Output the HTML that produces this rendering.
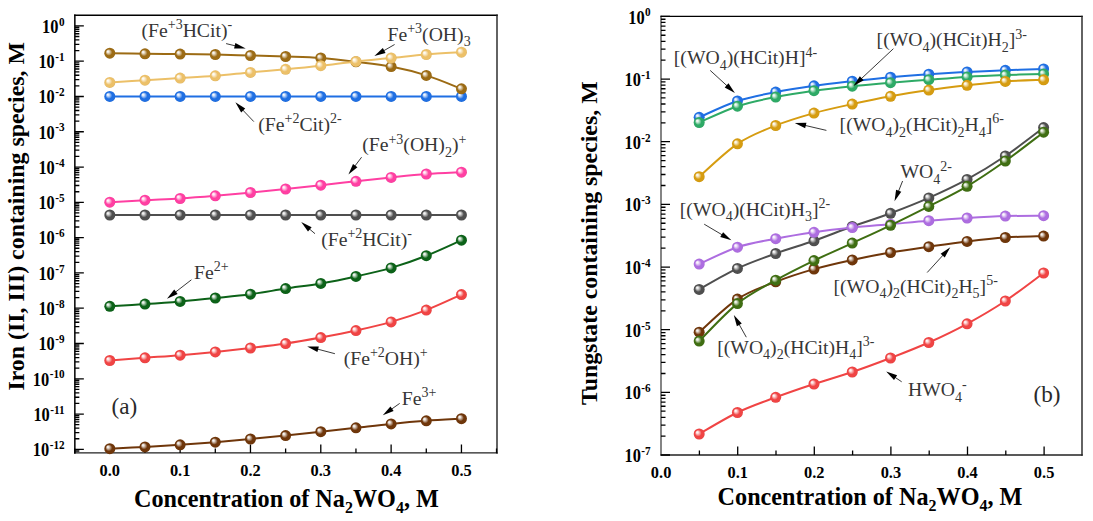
<!DOCTYPE html>
<html><head><meta charset="utf-8"><style>
html,body{margin:0;padding:0;background:#fff;overflow:hidden;}
svg{display:block;}
</style></head><body>
<svg width="1093" height="521" viewBox="0 0 1093 521">
<defs><radialGradient id="g1f6fe3" cx="0.5" cy="0.5" r="0.5" fx="0.30" fy="0.32"><stop offset="0" stop-color="#ffffff"/><stop offset="0.18" stop-color="#dde9fb"/><stop offset="0.40" stop-color="#7dabef"/><stop offset="0.60" stop-color="#1f6fe3"/><stop offset="0.88" stop-color="#1f6fe3"/><stop offset="1" stop-color="#1d68d5"/></radialGradient><radialGradient id="g9c6b14" cx="0.5" cy="0.5" r="0.5" fx="0.30" fy="0.32"><stop offset="0" stop-color="#ffffff"/><stop offset="0.18" stop-color="#f0e9dc"/><stop offset="0.40" stop-color="#c6a977"/><stop offset="0.60" stop-color="#9c6b14"/><stop offset="0.88" stop-color="#9c6b14"/><stop offset="1" stop-color="#936513"/></radialGradient><radialGradient id="gecc068" cx="0.5" cy="0.5" r="0.5" fx="0.30" fy="0.32"><stop offset="0" stop-color="#ffffff"/><stop offset="0.18" stop-color="#fcf6e8"/><stop offset="0.40" stop-color="#f4daa7"/><stop offset="0.60" stop-color="#ecc068"/><stop offset="0.88" stop-color="#ecc068"/><stop offset="1" stop-color="#deb462"/></radialGradient><radialGradient id="gff3fa2" cx="0.5" cy="0.5" r="0.5" fx="0.30" fy="0.32"><stop offset="0" stop-color="#ffffff"/><stop offset="0.18" stop-color="#ffe2f1"/><stop offset="0.40" stop-color="#ff90c9"/><stop offset="0.60" stop-color="#ff3fa2"/><stop offset="0.88" stop-color="#ff3fa2"/><stop offset="1" stop-color="#f03b98"/></radialGradient><radialGradient id="g4f4f4f" cx="0.5" cy="0.5" r="0.5" fx="0.30" fy="0.32"><stop offset="0" stop-color="#ffffff"/><stop offset="0.18" stop-color="#e5e5e5"/><stop offset="0.40" stop-color="#999999"/><stop offset="0.60" stop-color="#4f4f4f"/><stop offset="0.88" stop-color="#4f4f4f"/><stop offset="1" stop-color="#4a4a4a"/></radialGradient><radialGradient id="g0c6218" cx="0.5" cy="0.5" r="0.5" fx="0.30" fy="0.32"><stop offset="0" stop-color="#ffffff"/><stop offset="0.18" stop-color="#dbe7dc"/><stop offset="0.40" stop-color="#72a479"/><stop offset="0.60" stop-color="#0c6218"/><stop offset="0.88" stop-color="#0c6218"/><stop offset="1" stop-color="#0b5c17"/></radialGradient><radialGradient id="gf04444" cx="0.5" cy="0.5" r="0.5" fx="0.30" fy="0.32"><stop offset="0" stop-color="#ffffff"/><stop offset="0.18" stop-color="#fde3e3"/><stop offset="0.40" stop-color="#f69393"/><stop offset="0.60" stop-color="#f04444"/><stop offset="0.88" stop-color="#f04444"/><stop offset="1" stop-color="#e24040"/></radialGradient><radialGradient id="g6f360a" cx="0.5" cy="0.5" r="0.5" fx="0.30" fy="0.32"><stop offset="0" stop-color="#ffffff"/><stop offset="0.18" stop-color="#e9e1da"/><stop offset="0.40" stop-color="#ab8a71"/><stop offset="0.60" stop-color="#6f360a"/><stop offset="0.88" stop-color="#6f360a"/><stop offset="1" stop-color="#683309"/></radialGradient><radialGradient id="g2eaa66" cx="0.5" cy="0.5" r="0.5" fx="0.30" fy="0.32"><stop offset="0" stop-color="#ffffff"/><stop offset="0.18" stop-color="#e0f2e8"/><stop offset="0.40" stop-color="#86cea6"/><stop offset="0.60" stop-color="#2eaa66"/><stop offset="0.88" stop-color="#2eaa66"/><stop offset="1" stop-color="#2ba060"/></radialGradient><radialGradient id="gd69c10" cx="0.5" cy="0.5" r="0.5" fx="0.30" fy="0.32"><stop offset="0" stop-color="#ffffff"/><stop offset="0.18" stop-color="#f9f0db"/><stop offset="0.40" stop-color="#e7c674"/><stop offset="0.60" stop-color="#d69c10"/><stop offset="0.88" stop-color="#d69c10"/><stop offset="1" stop-color="#c9930f"/></radialGradient><radialGradient id="gad6de0" cx="0.5" cy="0.5" r="0.5" fx="0.30" fy="0.32"><stop offset="0" stop-color="#ffffff"/><stop offset="0.18" stop-color="#f3e9fa"/><stop offset="0.40" stop-color="#cfaaed"/><stop offset="0.60" stop-color="#ad6de0"/><stop offset="0.88" stop-color="#ad6de0"/><stop offset="1" stop-color="#a366d3"/></radialGradient><radialGradient id="g3f6e12" cx="0.5" cy="0.5" r="0.5" fx="0.30" fy="0.32"><stop offset="0" stop-color="#ffffff"/><stop offset="0.18" stop-color="#e2e9db"/><stop offset="0.40" stop-color="#90ab76"/><stop offset="0.60" stop-color="#3f6e12"/><stop offset="0.88" stop-color="#3f6e12"/><stop offset="1" stop-color="#3b6711"/></radialGradient></defs>
<rect width="1093" height="521" fill="#fff"/>
<line x1="74.85" y1="15.2" x2="497.0" y2="15.2" stroke="#000" stroke-width="1.5" stroke-linecap="square"/>
<line x1="74.85" y1="452.95" x2="497.0" y2="452.95" stroke="#222" stroke-width="1.3" stroke-linecap="square"/>
<line x1="74.85" y1="15.2" x2="74.85" y2="452.95" stroke="#000" stroke-width="1.5" stroke-linecap="square"/>
<line x1="497.0" y1="15.2" x2="497.0" y2="452.95" stroke="#222" stroke-width="1.4" stroke-linecap="square"/>
<line x1="661.0" y1="16.4" x2="1082.0" y2="16.4" stroke="#000" stroke-width="1.4" stroke-linecap="square"/>
<line x1="661.0" y1="455.0" x2="1082.0" y2="455.0" stroke="#222" stroke-width="1.3" stroke-linecap="square"/>
<line x1="661.0" y1="16.4" x2="661.0" y2="455.0" stroke="#333" stroke-width="1.2" stroke-linecap="square"/>
<line x1="1082.0" y1="16.4" x2="1082.0" y2="455.0" stroke="#222" stroke-width="1.4" stroke-linecap="square"/>
<path d="M74.85,450.99h4.5 M74.85,449.38h9 M74.85,438.76h4.5 M74.85,432.54h4.5 M74.85,428.13h4.5 M74.85,424.71h4.5 M74.85,421.92h4.5 M74.85,419.56h4.5 M74.85,417.51h4.5 M74.85,415.70h4.5 M74.85,414.09h9 M74.85,403.47h4.5 M74.85,397.25h4.5 M74.85,392.84h4.5 M74.85,389.42h4.5 M74.85,386.63h4.5 M74.85,384.27h4.5 M74.85,382.22h4.5 M74.85,380.41h4.5 M74.85,378.80h9 M74.85,368.18h4.5 M74.85,361.96h4.5 M74.85,357.55h4.5 M74.85,354.13h4.5 M74.85,351.34h4.5 M74.85,348.98h4.5 M74.85,346.93h4.5 M74.85,345.12h4.5 M74.85,343.51h9 M74.85,332.89h4.5 M74.85,326.67h4.5 M74.85,322.26h4.5 M74.85,318.84h4.5 M74.85,316.05h4.5 M74.85,313.69h4.5 M74.85,311.64h4.5 M74.85,309.83h4.5 M74.85,308.22h9 M74.85,297.60h4.5 M74.85,291.38h4.5 M74.85,286.97h4.5 M74.85,283.55h4.5 M74.85,280.76h4.5 M74.85,278.40h4.5 M74.85,276.35h4.5 M74.85,274.54h4.5 M74.85,272.93h9 M74.85,262.31h4.5 M74.85,256.09h4.5 M74.85,251.68h4.5 M74.85,248.26h4.5 M74.85,245.47h4.5 M74.85,243.11h4.5 M74.85,241.06h4.5 M74.85,239.25h4.5 M74.85,237.64h9 M74.85,227.02h4.5 M74.85,220.80h4.5 M74.85,216.39h4.5 M74.85,212.97h4.5 M74.85,210.18h4.5 M74.85,207.82h4.5 M74.85,205.77h4.5 M74.85,203.96h4.5 M74.85,202.35h9 M74.85,191.73h4.5 M74.85,185.51h4.5 M74.85,181.10h4.5 M74.85,177.68h4.5 M74.85,174.89h4.5 M74.85,172.53h4.5 M74.85,170.48h4.5 M74.85,168.67h4.5 M74.85,167.06h9 M74.85,156.44h4.5 M74.85,150.22h4.5 M74.85,145.81h4.5 M74.85,142.39h4.5 M74.85,139.60h4.5 M74.85,137.24h4.5 M74.85,135.19h4.5 M74.85,133.38h4.5 M74.85,131.77h9 M74.85,121.15h4.5 M74.85,114.93h4.5 M74.85,110.52h4.5 M74.85,107.10h4.5 M74.85,104.31h4.5 M74.85,101.95h4.5 M74.85,99.90h4.5 M74.85,98.09h4.5 M74.85,96.48h9 M74.85,85.86h4.5 M74.85,79.64h4.5 M74.85,75.23h4.5 M74.85,71.81h4.5 M74.85,69.02h4.5 M74.85,66.66h4.5 M74.85,64.61h4.5 M74.85,62.80h4.5 M74.85,61.19h9 M74.85,50.57h4.5 M74.85,44.35h4.5 M74.85,39.94h4.5 M74.85,36.52h4.5 M74.85,33.73h4.5 M74.85,31.37h4.5 M74.85,29.32h4.5 M74.85,27.51h4.5 M74.85,25.90h9 M661.0,455.02h9 M661.0,436.16h4.5 M661.0,425.12h4.5 M661.0,417.29h4.5 M661.0,411.22h4.5 M661.0,406.26h4.5 M661.0,402.07h4.5 M661.0,398.43h4.5 M661.0,395.23h4.5 M661.0,392.36h9 M661.0,373.50h4.5 M661.0,362.46h4.5 M661.0,354.63h4.5 M661.0,348.56h4.5 M661.0,343.60h4.5 M661.0,339.41h4.5 M661.0,335.77h4.5 M661.0,332.57h4.5 M661.0,329.70h9 M661.0,310.84h4.5 M661.0,299.80h4.5 M661.0,291.97h4.5 M661.0,285.90h4.5 M661.0,280.94h4.5 M661.0,276.75h4.5 M661.0,273.11h4.5 M661.0,269.91h4.5 M661.0,267.04h9 M661.0,248.18h4.5 M661.0,237.14h4.5 M661.0,229.31h4.5 M661.0,223.24h4.5 M661.0,218.28h4.5 M661.0,214.09h4.5 M661.0,210.45h4.5 M661.0,207.25h4.5 M661.0,204.38h9 M661.0,185.52h4.5 M661.0,174.48h4.5 M661.0,166.65h4.5 M661.0,160.58h4.5 M661.0,155.62h4.5 M661.0,151.43h4.5 M661.0,147.79h4.5 M661.0,144.59h4.5 M661.0,141.72h9 M661.0,122.86h4.5 M661.0,111.82h4.5 M661.0,103.99h4.5 M661.0,97.92h4.5 M661.0,92.96h4.5 M661.0,88.77h4.5 M661.0,85.13h4.5 M661.0,81.93h4.5 M661.0,79.06h9 M661.0,60.20h4.5 M661.0,49.16h4.5 M661.0,41.33h4.5 M661.0,35.26h4.5 M661.0,30.30h4.5 M661.0,26.11h4.5 M661.0,22.47h4.5 M661.0,19.27h4.5 M661.0,16.40h9 M109.80,452.95v-8.5 M180.13,452.95v-8.5 M250.46,452.95v-8.5 M320.79,452.95v-8.5 M391.12,452.95v-8.5 M461.45,452.95v-8.5 M74.71,452.95v-4.5 M144.97,452.95v-4.5 M215.30,452.95v-4.5 M285.62,452.95v-4.5 M355.95,452.95v-4.5 M426.29,452.95v-4.5 M496.54,452.95v-4.5 M737.70,455.0v-8.5 M814.30,455.0v-8.5 M890.90,455.0v-8.5 M967.50,455.0v-8.5 M1044.10,455.0v-8.5 M699.40,455.0v-4.5 M776.00,455.0v-4.5 M852.60,455.0v-4.5 M929.20,455.0v-4.5 M1005.80,455.0v-4.5" stroke="#000" stroke-width="1.3" fill="none"/>
<path d="M109.80,96.40 C115.66,96.40 133.24,96.40 144.97,96.40 C156.69,96.40 168.41,96.40 180.13,96.40 C191.85,96.40 203.57,96.40 215.30,96.40 C227.02,96.40 238.74,96.40 250.46,96.40 C262.18,96.40 273.90,96.40 285.62,96.40 C297.35,96.40 309.07,96.40 320.79,96.40 C332.51,96.40 344.23,96.40 355.95,96.40 C367.68,96.40 379.40,96.40 391.12,96.40 C402.84,96.40 414.56,96.40 426.29,96.40 C438.01,96.40 455.59,96.40 461.45,96.40" fill="none" stroke="#1f6fe3" stroke-width="2.0" stroke-linejoin="round"/>
<circle cx="109.80" cy="96.40" r="5.5" fill="url(#g1f6fe3)"/>
<circle cx="144.97" cy="96.40" r="5.5" fill="url(#g1f6fe3)"/>
<circle cx="180.13" cy="96.40" r="5.5" fill="url(#g1f6fe3)"/>
<circle cx="215.30" cy="96.40" r="5.5" fill="url(#g1f6fe3)"/>
<circle cx="250.46" cy="96.40" r="5.5" fill="url(#g1f6fe3)"/>
<circle cx="285.62" cy="96.40" r="5.5" fill="url(#g1f6fe3)"/>
<circle cx="320.79" cy="96.40" r="5.5" fill="url(#g1f6fe3)"/>
<circle cx="355.95" cy="96.40" r="5.5" fill="url(#g1f6fe3)"/>
<circle cx="391.12" cy="96.40" r="5.5" fill="url(#g1f6fe3)"/>
<circle cx="426.29" cy="96.40" r="5.5" fill="url(#g1f6fe3)"/>
<circle cx="461.45" cy="96.40" r="5.5" fill="url(#g1f6fe3)"/>
<path d="M109.80,53.20 C115.66,53.30 133.24,53.65 144.97,53.80 C156.69,53.95 168.41,53.98 180.13,54.10 C191.85,54.22 203.57,54.27 215.30,54.50 C227.02,54.73 238.74,55.17 250.46,55.50 C262.18,55.83 273.90,56.08 285.62,56.50 C297.35,56.92 309.07,57.12 320.79,58.00 C332.51,58.88 344.23,60.37 355.95,61.80 C367.68,63.23 379.40,64.33 391.12,66.60 C402.84,68.87 414.56,71.70 426.29,75.40 C438.01,79.10 455.59,86.57 461.45,88.80" fill="none" stroke="#9c6b14" stroke-width="2.0" stroke-linejoin="round"/>
<circle cx="109.80" cy="53.20" r="5.5" fill="url(#g9c6b14)"/>
<circle cx="144.97" cy="53.80" r="5.5" fill="url(#g9c6b14)"/>
<circle cx="180.13" cy="54.10" r="5.5" fill="url(#g9c6b14)"/>
<circle cx="215.30" cy="54.50" r="5.5" fill="url(#g9c6b14)"/>
<circle cx="250.46" cy="55.50" r="5.5" fill="url(#g9c6b14)"/>
<circle cx="285.62" cy="56.50" r="5.5" fill="url(#g9c6b14)"/>
<circle cx="320.79" cy="58.00" r="5.5" fill="url(#g9c6b14)"/>
<circle cx="355.95" cy="61.80" r="5.5" fill="url(#g9c6b14)"/>
<circle cx="391.12" cy="66.60" r="5.5" fill="url(#g9c6b14)"/>
<circle cx="426.29" cy="75.40" r="5.5" fill="url(#g9c6b14)"/>
<circle cx="461.45" cy="88.80" r="5.5" fill="url(#g9c6b14)"/>
<path d="M109.80,82.40 C115.66,82.03 133.24,80.92 144.97,80.20 C156.69,79.48 168.41,78.83 180.13,78.10 C191.85,77.37 203.57,76.75 215.30,75.80 C227.02,74.85 238.74,73.48 250.46,72.40 C262.18,71.32 273.90,70.42 285.62,69.30 C297.35,68.18 309.07,67.02 320.79,65.70 C332.51,64.38 344.23,62.68 355.95,61.40 C367.68,60.12 379.40,59.15 391.12,58.00 C402.84,56.85 414.56,55.47 426.29,54.50 C438.01,53.53 455.59,52.58 461.45,52.20" fill="none" stroke="#ecc068" stroke-width="2.0" stroke-linejoin="round"/>
<circle cx="109.80" cy="82.40" r="5.5" fill="url(#gecc068)"/>
<circle cx="144.97" cy="80.20" r="5.5" fill="url(#gecc068)"/>
<circle cx="180.13" cy="78.10" r="5.5" fill="url(#gecc068)"/>
<circle cx="215.30" cy="75.80" r="5.5" fill="url(#gecc068)"/>
<circle cx="250.46" cy="72.40" r="5.5" fill="url(#gecc068)"/>
<circle cx="285.62" cy="69.30" r="5.5" fill="url(#gecc068)"/>
<circle cx="320.79" cy="65.70" r="5.5" fill="url(#gecc068)"/>
<circle cx="355.95" cy="61.40" r="5.5" fill="url(#gecc068)"/>
<circle cx="391.12" cy="58.00" r="5.5" fill="url(#gecc068)"/>
<circle cx="426.29" cy="54.50" r="5.5" fill="url(#gecc068)"/>
<circle cx="461.45" cy="52.20" r="5.5" fill="url(#gecc068)"/>
<path d="M109.80,202.20 C115.66,201.87 133.24,200.82 144.97,200.20 C156.69,199.58 168.41,199.23 180.13,198.50 C191.85,197.77 203.57,196.80 215.30,195.80 C227.02,194.80 238.74,193.63 250.46,192.50 C262.18,191.37 273.90,190.22 285.62,189.00 C297.35,187.78 309.07,186.48 320.79,185.20 C332.51,183.92 344.23,182.60 355.95,181.30 C367.68,180.00 379.40,178.62 391.12,177.40 C402.84,176.18 414.56,174.87 426.29,174.00 C438.01,173.13 455.59,172.50 461.45,172.20" fill="none" stroke="#ff3fa2" stroke-width="2.0" stroke-linejoin="round"/>
<circle cx="109.80" cy="202.20" r="5.5" fill="url(#gff3fa2)"/>
<circle cx="144.97" cy="200.20" r="5.5" fill="url(#gff3fa2)"/>
<circle cx="180.13" cy="198.50" r="5.5" fill="url(#gff3fa2)"/>
<circle cx="215.30" cy="195.80" r="5.5" fill="url(#gff3fa2)"/>
<circle cx="250.46" cy="192.50" r="5.5" fill="url(#gff3fa2)"/>
<circle cx="285.62" cy="189.00" r="5.5" fill="url(#gff3fa2)"/>
<circle cx="320.79" cy="185.20" r="5.5" fill="url(#gff3fa2)"/>
<circle cx="355.95" cy="181.30" r="5.5" fill="url(#gff3fa2)"/>
<circle cx="391.12" cy="177.40" r="5.5" fill="url(#gff3fa2)"/>
<circle cx="426.29" cy="174.00" r="5.5" fill="url(#gff3fa2)"/>
<circle cx="461.45" cy="172.20" r="5.5" fill="url(#gff3fa2)"/>
<path d="M109.80,215.00 C115.66,215.00 133.24,215.00 144.97,215.00 C156.69,215.00 168.41,215.00 180.13,215.00 C191.85,215.00 203.57,215.00 215.30,215.00 C227.02,215.00 238.74,215.00 250.46,215.00 C262.18,215.00 273.90,215.00 285.62,215.00 C297.35,215.00 309.07,215.00 320.79,215.00 C332.51,215.00 344.23,215.00 355.95,215.00 C367.68,215.00 379.40,215.00 391.12,215.00 C402.84,215.00 414.56,215.00 426.29,215.00 C438.01,215.00 455.59,215.00 461.45,215.00" fill="none" stroke="#4f4f4f" stroke-width="2.0" stroke-linejoin="round"/>
<circle cx="109.80" cy="215.00" r="5.5" fill="url(#g4f4f4f)"/>
<circle cx="144.97" cy="215.00" r="5.5" fill="url(#g4f4f4f)"/>
<circle cx="180.13" cy="215.00" r="5.5" fill="url(#g4f4f4f)"/>
<circle cx="215.30" cy="215.00" r="5.5" fill="url(#g4f4f4f)"/>
<circle cx="250.46" cy="215.00" r="5.5" fill="url(#g4f4f4f)"/>
<circle cx="285.62" cy="215.00" r="5.5" fill="url(#g4f4f4f)"/>
<circle cx="320.79" cy="215.00" r="5.5" fill="url(#g4f4f4f)"/>
<circle cx="355.95" cy="215.00" r="5.5" fill="url(#g4f4f4f)"/>
<circle cx="391.12" cy="215.00" r="5.5" fill="url(#g4f4f4f)"/>
<circle cx="426.29" cy="215.00" r="5.5" fill="url(#g4f4f4f)"/>
<circle cx="461.45" cy="215.00" r="5.5" fill="url(#g4f4f4f)"/>
<path d="M109.80,306.30 C115.66,305.93 133.24,304.92 144.97,304.10 C156.69,303.28 168.41,302.42 180.13,301.40 C191.85,300.38 203.57,299.20 215.30,298.00 C227.02,296.80 238.74,295.77 250.46,294.20 C262.18,292.63 273.90,290.40 285.62,288.60 C297.35,286.80 309.07,285.43 320.79,283.40 C332.51,281.37 344.23,278.98 355.95,276.40 C367.68,273.82 379.40,271.35 391.12,267.90 C402.84,264.45 414.56,260.32 426.29,255.70 C438.01,251.08 455.59,242.78 461.45,240.20" fill="none" stroke="#0c6218" stroke-width="2.0" stroke-linejoin="round"/>
<circle cx="109.80" cy="306.30" r="5.5" fill="url(#g0c6218)"/>
<circle cx="144.97" cy="304.10" r="5.5" fill="url(#g0c6218)"/>
<circle cx="180.13" cy="301.40" r="5.5" fill="url(#g0c6218)"/>
<circle cx="215.30" cy="298.00" r="5.5" fill="url(#g0c6218)"/>
<circle cx="250.46" cy="294.20" r="5.5" fill="url(#g0c6218)"/>
<circle cx="285.62" cy="288.60" r="5.5" fill="url(#g0c6218)"/>
<circle cx="320.79" cy="283.40" r="5.5" fill="url(#g0c6218)"/>
<circle cx="355.95" cy="276.40" r="5.5" fill="url(#g0c6218)"/>
<circle cx="391.12" cy="267.90" r="5.5" fill="url(#g0c6218)"/>
<circle cx="426.29" cy="255.70" r="5.5" fill="url(#g0c6218)"/>
<circle cx="461.45" cy="240.20" r="5.5" fill="url(#g0c6218)"/>
<path d="M109.80,360.50 C115.66,360.05 133.24,358.68 144.97,357.80 C156.69,356.92 168.41,356.18 180.13,355.20 C191.85,354.22 203.57,353.10 215.30,351.90 C227.02,350.70 238.74,349.38 250.46,348.00 C262.18,346.62 273.90,345.33 285.62,343.60 C297.35,341.87 309.07,339.77 320.79,337.60 C332.51,335.43 344.23,333.22 355.95,330.60 C367.68,327.98 379.40,325.32 391.12,321.90 C402.84,318.48 414.56,314.65 426.29,310.10 C438.01,305.55 455.59,297.18 461.45,294.60" fill="none" stroke="#f04444" stroke-width="2.0" stroke-linejoin="round"/>
<circle cx="109.80" cy="360.50" r="5.5" fill="url(#gf04444)"/>
<circle cx="144.97" cy="357.80" r="5.5" fill="url(#gf04444)"/>
<circle cx="180.13" cy="355.20" r="5.5" fill="url(#gf04444)"/>
<circle cx="215.30" cy="351.90" r="5.5" fill="url(#gf04444)"/>
<circle cx="250.46" cy="348.00" r="5.5" fill="url(#gf04444)"/>
<circle cx="285.62" cy="343.60" r="5.5" fill="url(#gf04444)"/>
<circle cx="320.79" cy="337.60" r="5.5" fill="url(#gf04444)"/>
<circle cx="355.95" cy="330.60" r="5.5" fill="url(#gf04444)"/>
<circle cx="391.12" cy="321.90" r="5.5" fill="url(#gf04444)"/>
<circle cx="426.29" cy="310.10" r="5.5" fill="url(#gf04444)"/>
<circle cx="461.45" cy="294.60" r="5.5" fill="url(#gf04444)"/>
<path d="M109.80,448.70 C115.66,448.40 133.24,447.55 144.97,446.90 C156.69,446.25 168.41,445.58 180.13,444.80 C191.85,444.02 203.57,443.17 215.30,442.20 C227.02,441.23 238.74,440.10 250.46,439.00 C262.18,437.90 273.90,436.82 285.62,435.60 C297.35,434.38 309.07,433.00 320.79,431.70 C332.51,430.40 344.23,429.10 355.95,427.80 C367.68,426.50 379.40,425.07 391.12,423.90 C402.84,422.73 414.56,421.67 426.29,420.80 C438.01,419.93 455.59,419.05 461.45,418.70" fill="none" stroke="#6f360a" stroke-width="2.0" stroke-linejoin="round"/>
<circle cx="109.80" cy="448.70" r="5.5" fill="url(#g6f360a)"/>
<circle cx="144.97" cy="446.90" r="5.5" fill="url(#g6f360a)"/>
<circle cx="180.13" cy="444.80" r="5.5" fill="url(#g6f360a)"/>
<circle cx="215.30" cy="442.20" r="5.5" fill="url(#g6f360a)"/>
<circle cx="250.46" cy="439.00" r="5.5" fill="url(#g6f360a)"/>
<circle cx="285.62" cy="435.60" r="5.5" fill="url(#g6f360a)"/>
<circle cx="320.79" cy="431.70" r="5.5" fill="url(#g6f360a)"/>
<circle cx="355.95" cy="427.80" r="5.5" fill="url(#g6f360a)"/>
<circle cx="391.12" cy="423.90" r="5.5" fill="url(#g6f360a)"/>
<circle cx="426.29" cy="420.80" r="5.5" fill="url(#g6f360a)"/>
<circle cx="461.45" cy="418.70" r="5.5" fill="url(#g6f360a)"/>
<path d="M699.17,117.30 C705.55,114.58 724.68,105.20 737.44,101.00 C750.20,96.80 762.95,94.63 775.71,92.10 C788.47,89.57 801.22,87.62 813.98,85.80 C826.74,83.98 839.49,82.63 852.25,81.20 C865.01,79.77 877.76,78.37 890.52,77.20 C903.28,76.03 916.03,75.08 928.79,74.20 C941.55,73.32 954.30,72.55 967.06,71.90 C979.82,71.25 992.57,70.80 1005.33,70.30 C1018.09,69.80 1037.22,69.13 1043.60,68.90" fill="none" stroke="#1f6fe3" stroke-width="2.0" stroke-linejoin="round"/>
<circle cx="699.17" cy="117.30" r="5.5" fill="url(#g1f6fe3)"/>
<circle cx="737.44" cy="101.00" r="5.5" fill="url(#g1f6fe3)"/>
<circle cx="775.71" cy="92.10" r="5.5" fill="url(#g1f6fe3)"/>
<circle cx="813.98" cy="85.80" r="5.5" fill="url(#g1f6fe3)"/>
<circle cx="852.25" cy="81.20" r="5.5" fill="url(#g1f6fe3)"/>
<circle cx="890.52" cy="77.20" r="5.5" fill="url(#g1f6fe3)"/>
<circle cx="928.79" cy="74.20" r="5.5" fill="url(#g1f6fe3)"/>
<circle cx="967.06" cy="71.90" r="5.5" fill="url(#g1f6fe3)"/>
<circle cx="1005.33" cy="70.30" r="5.5" fill="url(#g1f6fe3)"/>
<circle cx="1043.60" cy="68.90" r="5.5" fill="url(#g1f6fe3)"/>
<path d="M699.17,122.50 C705.55,119.78 724.68,110.45 737.44,106.20 C750.20,101.95 762.95,99.58 775.71,97.00 C788.47,94.42 801.22,92.50 813.98,90.70 C826.74,88.90 839.49,87.53 852.25,86.20 C865.01,84.87 877.76,83.78 890.52,82.70 C903.28,81.62 916.03,80.67 928.79,79.70 C941.55,78.73 954.30,77.67 967.06,76.90 C979.82,76.13 992.57,75.60 1005.33,75.10 C1018.09,74.60 1037.22,74.10 1043.60,73.90" fill="none" stroke="#2eaa66" stroke-width="2.0" stroke-linejoin="round"/>
<circle cx="699.17" cy="122.50" r="5.5" fill="url(#g2eaa66)"/>
<circle cx="737.44" cy="106.20" r="5.5" fill="url(#g2eaa66)"/>
<circle cx="775.71" cy="97.00" r="5.5" fill="url(#g2eaa66)"/>
<circle cx="813.98" cy="90.70" r="5.5" fill="url(#g2eaa66)"/>
<circle cx="852.25" cy="86.20" r="5.5" fill="url(#g2eaa66)"/>
<circle cx="890.52" cy="82.70" r="5.5" fill="url(#g2eaa66)"/>
<circle cx="928.79" cy="79.70" r="5.5" fill="url(#g2eaa66)"/>
<circle cx="967.06" cy="76.90" r="5.5" fill="url(#g2eaa66)"/>
<circle cx="1005.33" cy="75.10" r="5.5" fill="url(#g2eaa66)"/>
<circle cx="1043.60" cy="73.90" r="5.5" fill="url(#g2eaa66)"/>
<path d="M699.17,176.70 C705.55,171.22 724.68,152.33 737.44,143.80 C750.20,135.27 762.95,130.62 775.71,125.50 C788.47,120.38 801.22,116.67 813.98,113.10 C826.74,109.53 839.49,106.90 852.25,104.10 C865.01,101.30 877.76,98.63 890.52,96.30 C903.28,93.97 916.03,91.93 928.79,90.10 C941.55,88.27 954.30,86.75 967.06,85.30 C979.82,83.85 992.57,82.32 1005.33,81.40 C1018.09,80.48 1037.22,80.07 1043.60,79.80" fill="none" stroke="#d69c10" stroke-width="2.0" stroke-linejoin="round"/>
<circle cx="699.17" cy="176.70" r="5.5" fill="url(#gd69c10)"/>
<circle cx="737.44" cy="143.80" r="5.5" fill="url(#gd69c10)"/>
<circle cx="775.71" cy="125.50" r="5.5" fill="url(#gd69c10)"/>
<circle cx="813.98" cy="113.10" r="5.5" fill="url(#gd69c10)"/>
<circle cx="852.25" cy="104.10" r="5.5" fill="url(#gd69c10)"/>
<circle cx="890.52" cy="96.30" r="5.5" fill="url(#gd69c10)"/>
<circle cx="928.79" cy="90.10" r="5.5" fill="url(#gd69c10)"/>
<circle cx="967.06" cy="85.30" r="5.5" fill="url(#gd69c10)"/>
<circle cx="1005.33" cy="81.40" r="5.5" fill="url(#gd69c10)"/>
<circle cx="1043.60" cy="79.80" r="5.5" fill="url(#gd69c10)"/>
<path d="M699.17,289.40 C705.55,285.90 724.68,274.38 737.44,268.40 C750.20,262.42 762.95,258.10 775.71,253.50 C788.47,248.90 801.22,245.30 813.98,240.80 C826.74,236.30 839.49,231.08 852.25,226.50 C865.01,221.92 877.76,218.07 890.52,213.30 C903.28,208.53 916.03,203.55 928.79,197.90 C941.55,192.25 954.30,186.38 967.06,179.40 C979.82,172.42 992.57,164.63 1005.33,156.00 C1018.09,147.37 1037.22,132.33 1043.60,127.60" fill="none" stroke="#4f4f4f" stroke-width="2.0" stroke-linejoin="round"/>
<circle cx="699.17" cy="289.40" r="5.5" fill="url(#g4f4f4f)"/>
<circle cx="737.44" cy="268.40" r="5.5" fill="url(#g4f4f4f)"/>
<circle cx="775.71" cy="253.50" r="5.5" fill="url(#g4f4f4f)"/>
<circle cx="813.98" cy="240.80" r="5.5" fill="url(#g4f4f4f)"/>
<circle cx="852.25" cy="226.50" r="5.5" fill="url(#g4f4f4f)"/>
<circle cx="890.52" cy="213.30" r="5.5" fill="url(#g4f4f4f)"/>
<circle cx="928.79" cy="197.90" r="5.5" fill="url(#g4f4f4f)"/>
<circle cx="967.06" cy="179.40" r="5.5" fill="url(#g4f4f4f)"/>
<circle cx="1005.33" cy="156.00" r="5.5" fill="url(#g4f4f4f)"/>
<circle cx="1043.60" cy="127.60" r="5.5" fill="url(#g4f4f4f)"/>
<path d="M699.17,264.10 C705.55,261.28 724.68,251.43 737.44,247.20 C750.20,242.97 762.95,241.18 775.71,238.70 C788.47,236.22 801.22,234.15 813.98,232.30 C826.74,230.45 839.49,228.95 852.25,227.60 C865.01,226.25 877.76,225.35 890.52,224.20 C903.28,223.05 916.03,221.73 928.79,220.70 C941.55,219.67 954.30,218.77 967.06,218.00 C979.82,217.23 992.57,216.48 1005.33,216.10 C1018.09,215.72 1037.22,215.77 1043.60,215.70" fill="none" stroke="#ad6de0" stroke-width="2.0" stroke-linejoin="round"/>
<circle cx="699.17" cy="264.10" r="5.5" fill="url(#gad6de0)"/>
<circle cx="737.44" cy="247.20" r="5.5" fill="url(#gad6de0)"/>
<circle cx="775.71" cy="238.70" r="5.5" fill="url(#gad6de0)"/>
<circle cx="813.98" cy="232.30" r="5.5" fill="url(#gad6de0)"/>
<circle cx="852.25" cy="227.60" r="5.5" fill="url(#gad6de0)"/>
<circle cx="890.52" cy="224.20" r="5.5" fill="url(#gad6de0)"/>
<circle cx="928.79" cy="220.70" r="5.5" fill="url(#gad6de0)"/>
<circle cx="967.06" cy="218.00" r="5.5" fill="url(#gad6de0)"/>
<circle cx="1005.33" cy="216.10" r="5.5" fill="url(#gad6de0)"/>
<circle cx="1043.60" cy="215.70" r="5.5" fill="url(#gad6de0)"/>
<path d="M699.17,332.20 C705.55,326.68 724.68,307.50 737.44,299.10 C750.20,290.70 762.95,286.80 775.71,281.80 C788.47,276.80 801.22,272.75 813.98,269.10 C826.74,265.45 839.49,262.67 852.25,259.90 C865.01,257.13 877.76,254.70 890.52,252.50 C903.28,250.30 916.03,248.55 928.79,246.70 C941.55,244.85 954.30,242.93 967.06,241.40 C979.82,239.87 992.57,238.38 1005.33,237.50 C1018.09,236.62 1037.22,236.33 1043.60,236.10" fill="none" stroke="#6f360a" stroke-width="2.0" stroke-linejoin="round"/>
<circle cx="699.17" cy="332.20" r="5.5" fill="url(#g6f360a)"/>
<circle cx="737.44" cy="299.10" r="5.5" fill="url(#g6f360a)"/>
<circle cx="775.71" cy="281.80" r="5.5" fill="url(#g6f360a)"/>
<circle cx="813.98" cy="269.10" r="5.5" fill="url(#g6f360a)"/>
<circle cx="852.25" cy="259.90" r="5.5" fill="url(#g6f360a)"/>
<circle cx="890.52" cy="252.50" r="5.5" fill="url(#g6f360a)"/>
<circle cx="928.79" cy="246.70" r="5.5" fill="url(#g6f360a)"/>
<circle cx="967.06" cy="241.40" r="5.5" fill="url(#g6f360a)"/>
<circle cx="1005.33" cy="237.50" r="5.5" fill="url(#g6f360a)"/>
<circle cx="1043.60" cy="236.10" r="5.5" fill="url(#g6f360a)"/>
<path d="M699.17,341.10 C705.55,334.85 724.68,313.75 737.44,303.60 C750.20,293.45 762.95,287.37 775.71,280.20 C788.47,273.03 801.22,266.78 813.98,260.60 C826.74,254.42 839.49,248.98 852.25,243.10 C865.01,237.22 877.76,231.42 890.52,225.30 C903.28,219.18 916.03,212.90 928.79,206.40 C941.55,199.90 954.30,193.87 967.06,186.30 C979.82,178.73 992.57,170.02 1005.33,161.00 C1018.09,151.98 1037.22,137.00 1043.60,132.20" fill="none" stroke="#3f6e12" stroke-width="2.0" stroke-linejoin="round"/>
<circle cx="699.17" cy="341.10" r="5.5" fill="url(#g3f6e12)"/>
<circle cx="737.44" cy="303.60" r="5.5" fill="url(#g3f6e12)"/>
<circle cx="775.71" cy="280.20" r="5.5" fill="url(#g3f6e12)"/>
<circle cx="813.98" cy="260.60" r="5.5" fill="url(#g3f6e12)"/>
<circle cx="852.25" cy="243.10" r="5.5" fill="url(#g3f6e12)"/>
<circle cx="890.52" cy="225.30" r="5.5" fill="url(#g3f6e12)"/>
<circle cx="928.79" cy="206.40" r="5.5" fill="url(#g3f6e12)"/>
<circle cx="967.06" cy="186.30" r="5.5" fill="url(#g3f6e12)"/>
<circle cx="1005.33" cy="161.00" r="5.5" fill="url(#g3f6e12)"/>
<circle cx="1043.60" cy="132.20" r="5.5" fill="url(#g3f6e12)"/>
<path d="M699.17,434.00 C705.55,430.42 724.68,418.62 737.44,412.50 C750.20,406.38 762.95,402.05 775.71,397.30 C788.47,392.55 801.22,388.22 813.98,384.00 C826.74,379.78 839.49,376.33 852.25,372.00 C865.01,367.67 877.76,362.92 890.52,358.00 C903.28,353.08 916.03,348.20 928.79,342.50 C941.55,336.80 954.30,330.72 967.06,323.80 C979.82,316.88 992.57,309.47 1005.33,301.00 C1018.09,292.53 1037.22,277.67 1043.60,273.00" fill="none" stroke="#f04444" stroke-width="2.0" stroke-linejoin="round"/>
<circle cx="699.17" cy="434.00" r="5.5" fill="url(#gf04444)"/>
<circle cx="737.44" cy="412.50" r="5.5" fill="url(#gf04444)"/>
<circle cx="775.71" cy="397.30" r="5.5" fill="url(#gf04444)"/>
<circle cx="813.98" cy="384.00" r="5.5" fill="url(#gf04444)"/>
<circle cx="852.25" cy="372.00" r="5.5" fill="url(#gf04444)"/>
<circle cx="890.52" cy="358.00" r="5.5" fill="url(#gf04444)"/>
<circle cx="928.79" cy="342.50" r="5.5" fill="url(#gf04444)"/>
<circle cx="967.06" cy="323.80" r="5.5" fill="url(#gf04444)"/>
<circle cx="1005.33" cy="301.00" r="5.5" fill="url(#gf04444)"/>
<circle cx="1043.60" cy="273.00" r="5.5" fill="url(#gf04444)"/>
<path d="M226.10,43.60L235.70,45.95" stroke="#222" stroke-width="0.9" fill="none"/><path d="M245.70,48.40L234.06,48.43L235.39,42.99Z" fill="#000"/><path d="M394.60,44.50L383.33,50.97" stroke="#222" stroke-width="0.9" fill="none"/><path d="M374.40,56.10L382.80,48.04L385.59,52.90Z" fill="#000"/><path d="M253.80,121.60L242.51,109.75" stroke="#222" stroke-width="0.9" fill="none"/><path d="M235.40,102.30L245.22,108.55L241.17,112.41Z" fill="#000"/><path d="M361.60,157.20L354.63,166.39" stroke="#222" stroke-width="0.9" fill="none"/><path d="M348.40,174.60L353.00,163.91L357.46,167.29Z" fill="#000"/><path d="M315.00,233.70L309.06,228.66" stroke="#222" stroke-width="0.9" fill="none"/><path d="M301.20,222.00L311.63,227.17L308.01,231.44Z" fill="#000"/><path d="M191.40,279.80L175.14,292.39" stroke="#222" stroke-width="0.9" fill="none"/><path d="M167.00,298.70L174.22,289.57L177.65,293.99Z" fill="#000"/><path d="M334.90,353.70L317.16,349.02" stroke="#222" stroke-width="0.9" fill="none"/><path d="M307.20,346.40L318.84,346.57L317.41,351.99Z" fill="#000"/><path d="M399.70,403.40L391.22,409.37" stroke="#222" stroke-width="0.9" fill="none"/><path d="M382.80,415.30L390.43,406.50L393.65,411.08Z" fill="#000"/><path d="M710.20,70.40L727.30,86.05" stroke="#222" stroke-width="0.9" fill="none"/><path d="M734.90,93.00L724.67,87.44L728.45,83.31Z" fill="#000"/><path d="M893.40,48.70L861.02,78.97" stroke="#222" stroke-width="0.9" fill="none"/><path d="M853.50,86.00L859.84,76.24L863.67,80.33Z" fill="#000"/><path d="M826.40,130.40L804.83,125.35" stroke="#222" stroke-width="0.9" fill="none"/><path d="M794.80,123.00L806.44,122.85L805.16,128.30Z" fill="#000"/><path d="M902.60,181.00L898.32,191.73" stroke="#222" stroke-width="0.9" fill="none"/><path d="M894.50,201.30L896.09,189.77L901.29,191.84Z" fill="#000"/><path d="M704.20,224.20L722.54,235.05" stroke="#222" stroke-width="0.9" fill="none"/><path d="M731.40,240.30L720.25,236.95L723.10,232.13Z" fill="#000"/><path d="M927.20,272.50L943.36,254.81" stroke="#222" stroke-width="0.9" fill="none"/><path d="M950.30,247.20L944.75,257.43L940.61,253.66Z" fill="#000"/><path d="M746.30,337.20L738.84,323.88" stroke="#222" stroke-width="0.9" fill="none"/><path d="M733.80,314.90L741.77,323.39L736.88,326.13Z" fill="#000"/><path d="M901.70,381.80L894.75,377.14" stroke="#222" stroke-width="0.9" fill="none"/><path d="M886.20,371.40L897.14,375.37L894.02,380.02Z" fill="#000"/>
<text transform="translate(64.6,32.70) scale(1,1.085)" text-anchor="end" style="font-family:'Liberation Serif',serif;font-weight:bold;font-size:16.4px">10<tspan dx="0.5" dy="-6.6" style="font-size:11.2px">0</tspan></text><text transform="translate(64.6,67.99) scale(1,1.085)" text-anchor="end" style="font-family:'Liberation Serif',serif;font-weight:bold;font-size:16.4px">10<tspan dx="0.5" dy="-6.6" style="font-size:11.2px">-1</tspan></text><text transform="translate(64.6,103.28) scale(1,1.085)" text-anchor="end" style="font-family:'Liberation Serif',serif;font-weight:bold;font-size:16.4px">10<tspan dx="0.5" dy="-6.6" style="font-size:11.2px">-2</tspan></text><text transform="translate(64.6,138.57) scale(1,1.085)" text-anchor="end" style="font-family:'Liberation Serif',serif;font-weight:bold;font-size:16.4px">10<tspan dx="0.5" dy="-6.6" style="font-size:11.2px">-3</tspan></text><text transform="translate(64.6,173.86) scale(1,1.085)" text-anchor="end" style="font-family:'Liberation Serif',serif;font-weight:bold;font-size:16.4px">10<tspan dx="0.5" dy="-6.6" style="font-size:11.2px">-4</tspan></text><text transform="translate(64.6,209.15) scale(1,1.085)" text-anchor="end" style="font-family:'Liberation Serif',serif;font-weight:bold;font-size:16.4px">10<tspan dx="0.5" dy="-6.6" style="font-size:11.2px">-5</tspan></text><text transform="translate(64.6,244.44) scale(1,1.085)" text-anchor="end" style="font-family:'Liberation Serif',serif;font-weight:bold;font-size:16.4px">10<tspan dx="0.5" dy="-6.6" style="font-size:11.2px">-6</tspan></text><text transform="translate(64.6,279.73) scale(1,1.085)" text-anchor="end" style="font-family:'Liberation Serif',serif;font-weight:bold;font-size:16.4px">10<tspan dx="0.5" dy="-6.6" style="font-size:11.2px">-7</tspan></text><text transform="translate(64.6,315.02) scale(1,1.085)" text-anchor="end" style="font-family:'Liberation Serif',serif;font-weight:bold;font-size:16.4px">10<tspan dx="0.5" dy="-6.6" style="font-size:11.2px">-8</tspan></text><text transform="translate(64.6,350.31) scale(1,1.085)" text-anchor="end" style="font-family:'Liberation Serif',serif;font-weight:bold;font-size:16.4px">10<tspan dx="0.5" dy="-6.6" style="font-size:11.2px">-9</tspan></text><text transform="translate(64.6,385.60) scale(1,1.085)" text-anchor="end" style="font-family:'Liberation Serif',serif;font-weight:bold;font-size:16.4px">10<tspan dx="0.5" dy="-6.6" style="font-size:11.2px">-10</tspan></text><text transform="translate(64.6,420.89) scale(1,1.085)" text-anchor="end" style="font-family:'Liberation Serif',serif;font-weight:bold;font-size:16.4px">10<tspan dx="0.5" dy="-6.6" style="font-size:11.2px">-11</tspan></text><text transform="translate(64.6,456.18) scale(1,1.085)" text-anchor="end" style="font-family:'Liberation Serif',serif;font-weight:bold;font-size:16.4px">10<tspan dx="0.5" dy="-6.6" style="font-size:11.2px">-12</tspan></text><text transform="translate(650.7,23.50) scale(1,1.085)" text-anchor="end" style="font-family:'Liberation Serif',serif;font-weight:bold;font-size:16.4px">10<tspan dx="0.5" dy="-6.6" style="font-size:11.2px">0</tspan></text><text transform="translate(650.7,86.16) scale(1,1.085)" text-anchor="end" style="font-family:'Liberation Serif',serif;font-weight:bold;font-size:16.4px">10<tspan dx="0.5" dy="-6.6" style="font-size:11.2px">-1</tspan></text><text transform="translate(650.7,148.82) scale(1,1.085)" text-anchor="end" style="font-family:'Liberation Serif',serif;font-weight:bold;font-size:16.4px">10<tspan dx="0.5" dy="-6.6" style="font-size:11.2px">-2</tspan></text><text transform="translate(650.7,211.48) scale(1,1.085)" text-anchor="end" style="font-family:'Liberation Serif',serif;font-weight:bold;font-size:16.4px">10<tspan dx="0.5" dy="-6.6" style="font-size:11.2px">-3</tspan></text><text transform="translate(650.7,274.14) scale(1,1.085)" text-anchor="end" style="font-family:'Liberation Serif',serif;font-weight:bold;font-size:16.4px">10<tspan dx="0.5" dy="-6.6" style="font-size:11.2px">-4</tspan></text><text transform="translate(650.7,336.80) scale(1,1.085)" text-anchor="end" style="font-family:'Liberation Serif',serif;font-weight:bold;font-size:16.4px">10<tspan dx="0.5" dy="-6.6" style="font-size:11.2px">-5</tspan></text><text transform="translate(650.7,399.46) scale(1,1.085)" text-anchor="end" style="font-family:'Liberation Serif',serif;font-weight:bold;font-size:16.4px">10<tspan dx="0.5" dy="-6.6" style="font-size:11.2px">-6</tspan></text><text transform="translate(650.7,462.12) scale(1,1.085)" text-anchor="end" style="font-family:'Liberation Serif',serif;font-weight:bold;font-size:16.4px">10<tspan dx="0.5" dy="-6.6" style="font-size:11.2px">-7</tspan></text><text transform="translate(109.80,476.1) scale(1,1.07)" text-anchor="middle" style="font-family:'Liberation Serif',serif;font-weight:bold;font-size:16.4px">0.0</text><text transform="translate(661.10,478.2) scale(1,1.07)" text-anchor="middle" style="font-family:'Liberation Serif',serif;font-weight:bold;font-size:16.4px">0.0</text><text transform="translate(180.13,476.1) scale(1,1.07)" text-anchor="middle" style="font-family:'Liberation Serif',serif;font-weight:bold;font-size:16.4px">0.1</text><text transform="translate(737.70,478.2) scale(1,1.07)" text-anchor="middle" style="font-family:'Liberation Serif',serif;font-weight:bold;font-size:16.4px">0.1</text><text transform="translate(250.46,476.1) scale(1,1.07)" text-anchor="middle" style="font-family:'Liberation Serif',serif;font-weight:bold;font-size:16.4px">0.2</text><text transform="translate(814.30,478.2) scale(1,1.07)" text-anchor="middle" style="font-family:'Liberation Serif',serif;font-weight:bold;font-size:16.4px">0.2</text><text transform="translate(320.79,476.1) scale(1,1.07)" text-anchor="middle" style="font-family:'Liberation Serif',serif;font-weight:bold;font-size:16.4px">0.3</text><text transform="translate(890.90,478.2) scale(1,1.07)" text-anchor="middle" style="font-family:'Liberation Serif',serif;font-weight:bold;font-size:16.4px">0.3</text><text transform="translate(391.12,476.1) scale(1,1.07)" text-anchor="middle" style="font-family:'Liberation Serif',serif;font-weight:bold;font-size:16.4px">0.4</text><text transform="translate(967.50,478.2) scale(1,1.07)" text-anchor="middle" style="font-family:'Liberation Serif',serif;font-weight:bold;font-size:16.4px">0.4</text><text transform="translate(461.45,476.1) scale(1,1.07)" text-anchor="middle" style="font-family:'Liberation Serif',serif;font-weight:bold;font-size:16.4px">0.5</text><text transform="translate(1044.10,478.2) scale(1,1.07)" text-anchor="middle" style="font-family:'Liberation Serif',serif;font-weight:bold;font-size:16.4px">0.5</text><text transform="translate(134.0,506.7) scale(1,1.06)" x="0" y="0" style="font-family:'Liberation Serif',serif;font-weight:bold;font-size:24.2px">Concentration of Na<tspan dy="6" style="font-size:16px">2</tspan><tspan dy="-6">WO</tspan><tspan dy="6" style="font-size:16px">4</tspan><tspan dy="-6">, M</tspan></text><text transform="translate(717.6,504.9) scale(1,1.06)" x="0" y="0" style="font-family:'Liberation Serif',serif;font-weight:bold;font-size:24.2px">Concentration of Na<tspan dy="6" style="font-size:16px">2</tspan><tspan dy="-6">WO</tspan><tspan dy="6" style="font-size:16px">4</tspan><tspan dy="-6">, M</tspan></text><text transform="translate(23.5,216.3) rotate(-90)" text-anchor="middle" style="font-family:'Liberation Serif',serif;font-weight:bold;font-size:23.85px">Iron (II, III) containing species, M</text><text transform="translate(597.2,243.2) rotate(-90)" text-anchor="middle" style="font-family:'Liberation Serif',serif;font-weight:bold;font-size:23.85px">Tungstate containing species, M</text><text x="111.6" y="413.5" style="font-family:'Liberation Serif',serif;font-size:23.2px;fill:#2a2a2a">(a)</text><text x="1033.5" y="402.2" style="font-family:'Liberation Serif',serif;font-size:23.2px;fill:#2a2a2a">(b)</text><text x="141.5" y="36.9" style="font-family:'Liberation Serif',serif;font-size:19.7px;fill:#363636"><tspan dy="0.00">(Fe</tspan><tspan dy="-7.80" style="font-size:14px">+3</tspan><tspan dy="7.80">HCit)</tspan><tspan dy="-7.80" style="font-size:14px">-</tspan></text><text x="387.5" y="40.6" style="font-family:'Liberation Serif',serif;font-size:19.7px;fill:#363636"><tspan dy="0.00">Fe</tspan><tspan dy="-7.80" style="font-size:14px">+3</tspan><tspan dy="7.80">(OH)</tspan><tspan dy="5.30" style="font-size:14px">3</tspan></text><text x="258.3" y="131.0" style="font-family:'Liberation Serif',serif;font-size:19.7px;fill:#363636"><tspan dy="0.00">(Fe</tspan><tspan dy="-7.80" style="font-size:14px">+2</tspan><tspan dy="7.80">Cit)</tspan><tspan dy="-7.80" style="font-size:14px">2-</tspan></text><text x="362.2" y="151.4" style="font-family:'Liberation Serif',serif;font-size:19.7px;fill:#363636"><tspan dy="0.00">(Fe</tspan><tspan dy="-7.80" style="font-size:14px">+3</tspan><tspan dy="7.80">(OH)</tspan><tspan dy="5.30" style="font-size:14px">2</tspan><tspan dy="-5.30">)</tspan><tspan dy="-7.80" style="font-size:14px">+</tspan></text><text x="321.2" y="245.9" style="font-family:'Liberation Serif',serif;font-size:19.7px;fill:#363636"><tspan dy="0.00">(Fe</tspan><tspan dy="-7.80" style="font-size:14px">+2</tspan><tspan dy="7.80">HCit)</tspan><tspan dy="-7.80" style="font-size:14px">-</tspan></text><text x="194.0" y="278.5" style="font-family:'Liberation Serif',serif;font-size:19.7px;fill:#363636"><tspan dy="0.00">Fe</tspan><tspan dy="-7.80" style="font-size:14px">2+</tspan></text><text x="343.7" y="364.5" style="font-family:'Liberation Serif',serif;font-size:19.7px;fill:#363636"><tspan dy="0.00">(Fe</tspan><tspan dy="-7.80" style="font-size:14px">+2</tspan><tspan dy="7.80">OH)</tspan><tspan dy="-7.80" style="font-size:14px">+</tspan></text><text x="401.7" y="404.6" style="font-family:'Liberation Serif',serif;font-size:19.7px;fill:#363636"><tspan dy="0.00">Fe</tspan><tspan dy="-7.80" style="font-size:14px">3+</tspan></text><text x="673.8" y="64.4" style="font-family:'Liberation Serif',serif;font-size:19.7px;fill:#363636"><tspan dy="0.00">[(WO</tspan><tspan dy="5.30" style="font-size:14px">4</tspan><tspan dy="-5.30">)(HCit)H]</tspan><tspan dy="-7.80" style="font-size:14px">4-</tspan></text><text x="876.6" y="46.4" style="font-family:'Liberation Serif',serif;font-size:19.7px;fill:#363636"><tspan dy="0.00">[(WO</tspan><tspan dy="5.30" style="font-size:14px">4</tspan><tspan dy="-5.30">)(HCit)H</tspan><tspan dy="5.30" style="font-size:14px">2</tspan><tspan dy="-5.30">]</tspan><tspan dy="-7.80" style="font-size:14px">3-</tspan></text><text x="839.6" y="131.2" style="font-family:'Liberation Serif',serif;font-size:19.7px;fill:#363636"><tspan dy="0.00">[(WO</tspan><tspan dy="5.30" style="font-size:14px">4</tspan><tspan dy="-5.30">)</tspan><tspan dy="5.30" style="font-size:14px">2</tspan><tspan dy="-5.30">(HCit)</tspan><tspan dy="5.30" style="font-size:14px">2</tspan><tspan dy="-5.30">H</tspan><tspan dy="5.30" style="font-size:14px">4</tspan><tspan dy="-5.30">]</tspan><tspan dy="-7.80" style="font-size:14px">6-</tspan></text><text x="900.5" y="178.3" style="font-family:'Liberation Serif',serif;font-size:19.7px;fill:#363636"><tspan dy="0.00">WO</tspan><tspan dy="5.30" style="font-size:14px">4</tspan><tspan dy="-13.10" style="font-size:14px">2-</tspan></text><text x="679.8" y="216.0" style="font-family:'Liberation Serif',serif;font-size:19.7px;fill:#363636"><tspan dy="0.00">[(WO</tspan><tspan dy="5.30" style="font-size:14px">4</tspan><tspan dy="-5.30">)(HCit)H</tspan><tspan dy="5.30" style="font-size:14px">3</tspan><tspan dy="-5.30">]</tspan><tspan dy="-7.80" style="font-size:14px">2-</tspan></text><text x="833.5" y="292.8" style="font-family:'Liberation Serif',serif;font-size:19.7px;fill:#363636"><tspan dy="0.00">[(WO</tspan><tspan dy="5.30" style="font-size:14px">4</tspan><tspan dy="-5.30">)</tspan><tspan dy="5.30" style="font-size:14px">2</tspan><tspan dy="-5.30">(HCit)</tspan><tspan dy="5.30" style="font-size:14px">2</tspan><tspan dy="-5.30">H</tspan><tspan dy="5.30" style="font-size:14px">5</tspan><tspan dy="-5.30">]</tspan><tspan dy="-7.80" style="font-size:14px">5-</tspan></text><text x="717.2" y="353.5" style="font-family:'Liberation Serif',serif;font-size:19.7px;fill:#363636"><tspan dy="0.00">[(WO</tspan><tspan dy="5.30" style="font-size:14px">4</tspan><tspan dy="-5.30">)</tspan><tspan dy="5.30" style="font-size:14px">2</tspan><tspan dy="-5.30">(HCit)H</tspan><tspan dy="5.30" style="font-size:14px">4</tspan><tspan dy="-5.30">]</tspan><tspan dy="-7.80" style="font-size:14px">3-</tspan></text><text x="908.0" y="396.4" style="font-family:'Liberation Serif',serif;font-size:19.7px;fill:#363636"><tspan dy="0.00">HWO</tspan><tspan dy="5.30" style="font-size:14px">4</tspan><tspan dy="-13.10" style="font-size:14px">-</tspan></text>
</svg>
</body></html>
